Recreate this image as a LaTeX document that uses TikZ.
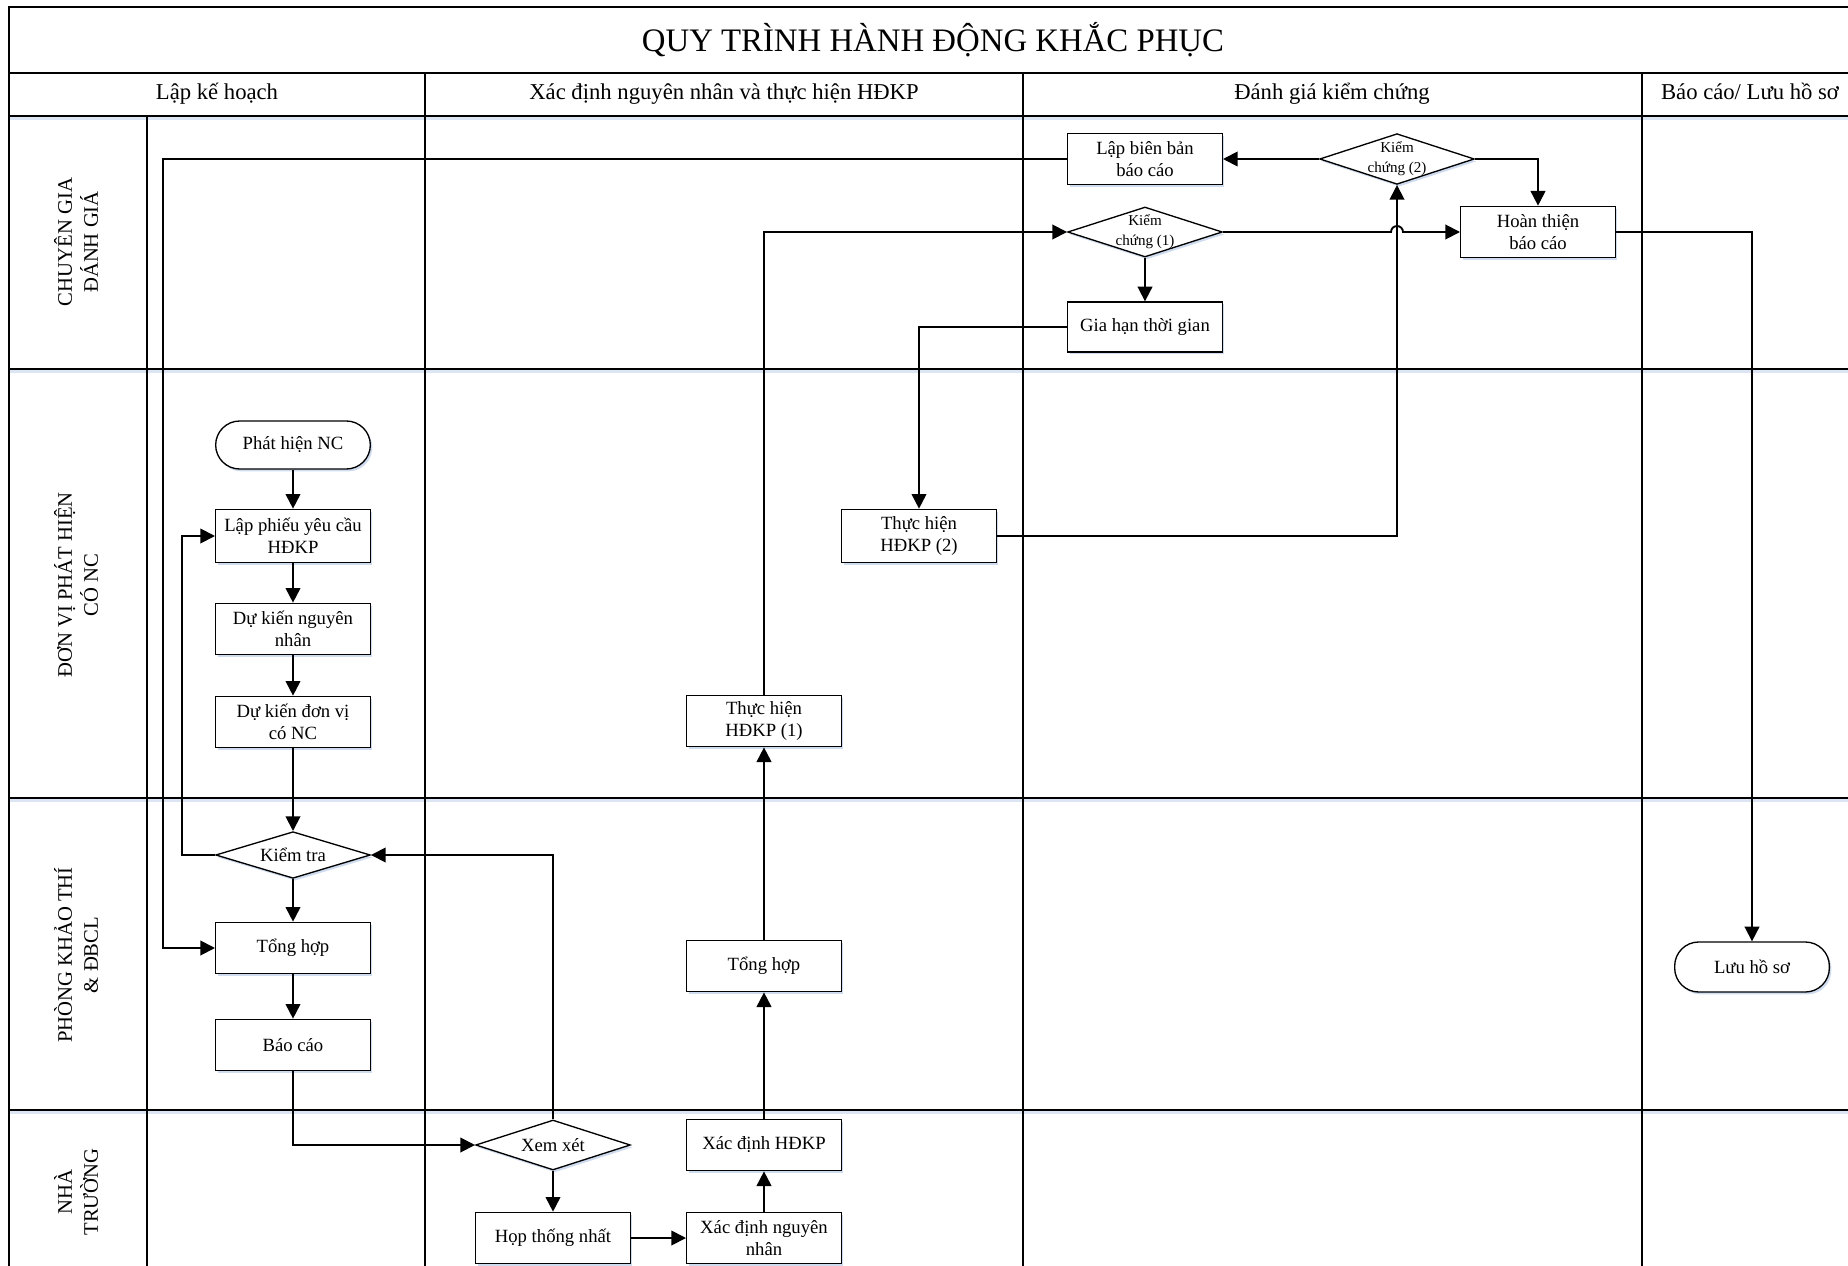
\documentclass[tikz,border=0pt]{standalone}
\usepackage{fontspec}
\setmainfont{Liberation Serif}
\usetikzlibrary{shapes.geometric,shadows,arrows.meta,calc}
\definecolor{shblue}{RGB}{196,212,236}
\newcommand\boxfont{\fontsize{14}{16.5}\selectfont}
\newcommand\smallfnt{\fontsize{11.3}{15}\selectfont}
\newcommand\headfont{\fontsize{17}{20}\selectfont}
\newcommand\titlefnt{\fontsize{24.6}{28}\selectfont}
\newcommand\lanefnt{\fontsize{15.5}{19.5}\selectfont}
\begin{document}
\begin{tikzpicture}[x=0.75pt,y=-0.75pt,
  lane/.style={line width=1pt, draw=black},
  laneshadow/.style={line width=2.5pt, draw=shblue, opacity=0.6},
  frame/.style={line width=1.6pt, draw=black},
  shad/.style={drop shadow={shadow xshift=1.5pt,shadow yshift=-1.8pt,fill=shblue,opacity=0.8}},
  box/.style={draw, line width=1pt, rectangle, minimum width=116pt, minimum height=38.5pt,
     inner sep=1pt, align=center, fill=white, font=\boxfont, shad},
  term/.style={box, rounded corners=18pt, minimum height=36pt},
  dia/.style={draw, line width=1pt, diamond, minimum width=116pt, minimum height=36pt,
     inner sep=0pt, fill=white, shad},
  dtext/.style={align=center, inner sep=0pt, font=\boxfont},
  dsmall/.style={align=center, inner sep=0pt, font=\smallfnt},
  conn/.style={line width=1.4pt, -{Triangle[length=11pt,width=11pt]}},
  hdr/.style={font=\headfont, inner sep=0pt, anchor=base},
  lanelbl/.style={font=\lanefnt, align=center, rotate=90, inner sep=0pt}
]
\clip (0,0) rectangle (1848,1266);
\fill[white] (0,0) rectangle (1848,1266);

% ---- swimlane grid ----
\foreach \yy in {116,369,798,1110}{
  \draw[laneshadow] (9,\yy+2) -- (1880,\yy+2);
}
\foreach \yy in {73,116,369,798,1110}{
  \draw[lane] (9,\yy) -- (1880,\yy);
}
\draw[lane] (147,116) -- (147,1300);
\foreach \xx in {425,1023,1642}{
  \draw[lane] (\xx,73) -- (\xx,1300);
}
\draw[frame] (9,1300) -- (9,7) -- (1880,7);

% ---- title and headers ----
\node[font=\titlefnt, inner sep=0pt] (title) at (933,40) {QUY TRÌNH HÀNH ĐỘNG KHẮC PHỤC};
\node[hdr] (h1) at (217,100) {Lập kế hoạch};
\node[hdr] (h2) at (724,100) {Xác định nguyên nhân và thực hiện HĐKP};
\node[hdr] (h3) at (1332,100) {Đánh giá kiểm chứng};
\node[hdr] (h4) at (1750,100) {Báo cáo/ Lưu hồ sơ};

\node[lanelbl] (l1) at (76,242) {CHUYÊN GIA\\ĐÁNH GIÁ};
\node[lanelbl] (l2) at (76,585) {ĐƠN VỊ PHÁT HIỆN\\CÓ NC};
\node[lanelbl] (l3) at (76,955) {PHÒNG KHẢO THÍ\\\& ĐBCL};
\node[lanelbl] (l4) at (76,1192) {NHÀ\\TRƯỜNG};

% ---- nodes ----
\node[term] (pnc) at (293,445) {Phát hiện NC};
\node[box, minimum height=40pt] (lp) at (293,536) {Lập phiếu yêu cầu\\HĐKP};
\node[box] (dknn) at (293,629) {Dự kiến nguyên\\nhân};
\node[box] (dkdv) at (293,722) {Dự kiến đơn vị\\có NC};
\node[dia, minimum height=35pt, label={[dtext]center:Kiểm tra}] (kt) at (293,855) {};
\node[box] (th1) at (293,948) {Tổng hợp};
\node[box] (bc) at (293,1045) {Báo cáo};

\node[dia, minimum height=37.5pt, label={[dtext]center:Xem xét}] (xx) at (553,1145) {};
\node[box] (htn) at (553,1238) {Họp thống nhất};
\node[box] (xdnn) at (764,1238) {Xác định nguyên\\nhân};
\node[box] (xdh) at (764,1145) {Xác định HĐKP};
\node[box] (th2) at (764,966) {Tổng hợp};
\node[box] (thh1) at (764,721) {Thực hiện\\HĐKP (1)};
\node[box, minimum height=40pt] (thh2) at (919,536) {Thực hiện\\HĐKP (2)};

\node[box] (lbb) at (1145,159) {Lập biên bản\\báo cáo};
\node[dia, minimum height=37.5pt, label={[dsmall]center:Kiểm\\chứng (1)}] (k1) at (1145,232) {};
\node[box, minimum height=37.5pt] (gh) at (1145,327) {Gia hạn thời gian};
\node[dia, minimum height=38pt, label={[dsmall]center:Kiểm\\chứng (2)}] (k2) at (1397,159) {};
\node[box] (ht) at (1538,232) {Hoàn thiện\\báo cáo};
\node[term, minimum height=37.5pt] (lhs) at (1752,967) {Lưu hồ sơ};

% ---- connectors ----
\draw[conn] (pnc.south) -- (lp.north);
\draw[conn] (lp.south) -- (dknn.north);
\draw[conn] (dknn.south) -- (dkdv.north);
\draw[conn] (dkdv.south) -- (kt.north);
\draw[conn] (kt.west) -- ++(-33,0) |- (lp.west);
\draw[conn] (kt.south) -- (th1.north);
\draw[conn] (th1.south) -- (bc.north);
\draw[conn] (bc.south) |- (xx.west);
\draw[conn] (xx.north) |- (kt.east);
\draw[conn] (xx.south) -- (htn.north);
\draw[conn] (htn.east) -- (xdnn.west);
\draw[conn] (xdnn.north) -- (xdh.south);
\draw[conn] (xdh.north) -- (th2.south);
\draw[conn] (th2.north) -- (thh1.south);
\draw[conn] (thh1.north) |- (k1.west);
\draw[conn] (k1.south) -- (gh.north);
\draw[conn] (gh.west) -| (thh2.north);
\draw[conn] (thh2.east) -| (k2.south);
\draw[conn] (k1.east) -- ($(k2.south |- k1.east)+(-6,0)$) arc[start angle=180,end angle=0,radius=4.5pt] -- (ht.west);
\draw[conn] (k2.west) -- (lbb.east);
\draw[conn] (k2.east) -| (ht.north);
\draw[conn] (lbb.west) -| ([xshift=-39pt]th1.west) -- (th1.west);
\draw[conn] (ht.east) -| (lhs.north);
\end{tikzpicture}
\end{document}
